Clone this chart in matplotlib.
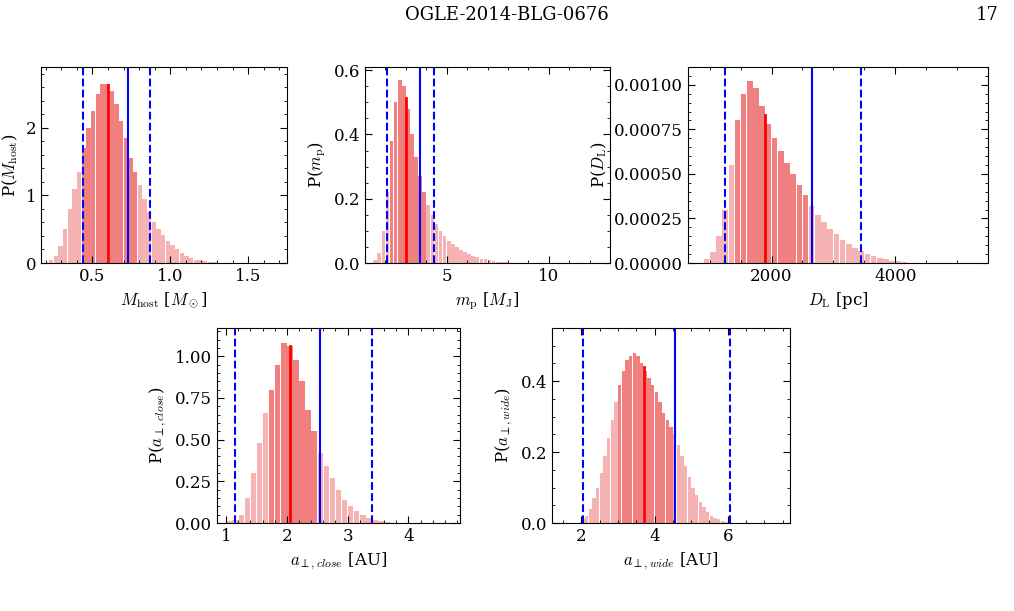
import numpy as np
import matplotlib
matplotlib.use("Agg")
from matplotlib import pyplot as plt

plt.rcParams["font.family"] = "DejaVu Serif"
plt.rcParams["mathtext.fontset"] = "cm"

# M_host
m_start, m_w = 0.22, 0.03
m_h = [0.05, 0.1, 0.25, 0.5, 0.8, 1.1, 1.35, 1.7, 2.0, 2.25, 2.5, 2.65, 2.65, 2.55,
       2.35, 2.1, 1.85, 1.55, 1.35, 1.15, 0.95, 0.75, 0.6, 0.5, 0.42, 0.33, 0.26,
       0.2, 0.15, 0.1, 0.07, 0.05, 0.04, 0.03, 0.02, 0.01]
# m_p
p_start, p_w = 1.4, 0.2
p_h = [0.01, 0.03, 0.1, 0.22, 0.38, 0.5, 0.57, 0.55, 0.48, 0.4, 0.33, 0.27, 0.22,
       0.18, 0.15, 0.12, 0.1, 0.085, 0.07, 0.06, 0.05, 0.04, 0.033, 0.027, 0.022,
       0.018, 0.014, 0.011, 0.008, 0.006, 0.004, 0.003, 0.002, 0.001]
# D_L
d_start, d_w = 900, 100
d_h = [v * 1e-4 for v in [0.2, 0.6, 1.5, 3, 5.5, 8, 9.5, 10.2, 9.8, 8.8, 7.8, 7, 6.3,
                          5.6, 5, 4.4, 3.8, 3.2, 2.7, 2.3, 1.9, 1.6, 1.3, 1.05, 0.85,
                          0.65, 0.5, 0.38, 0.28, 0.2, 0.14, 0.09, 0.05]]
# a_close
c_start, c_w = 1.0, 0.1
c_h = [0.01, 0.02, 0.05, 0.15, 0.3, 0.48, 0.66, 0.8, 0.95, 1.08, 1.06, 0.98, 0.85,
       0.68, 0.55, 0.42, 0.34, 0.27, 0.2, 0.14, 0.1, 0.07, 0.05, 0.03, 0.02, 0.01, 0.005]
# a_wide
w_start, w_w = 2.0, 0.1
w_h = [0.01, 0.02, 0.04, 0.07, 0.1, 0.14, 0.19, 0.24, 0.29, 0.34, 0.39, 0.43, 0.46,
       0.47, 0.48, 0.47, 0.45, 0.43, 0.41, 0.39, 0.37, 0.34, 0.31, 0.29, 0.27, 0.25,
       0.22, 0.19, 0.16, 0.13, 0.1, 0.08, 0.06, 0.045, 0.03, 0.02, 0.015, 0.01, 0.006,
       0.004, 0.002]

panels = [
    # start, width, heights, dark range, median, best, dashed, xlim, ylim, xticks, yticks, labels
    (m_start, m_w, m_h, (0.44, 0.79), 0.60, 0.73, (0.44, 0.87), (0.17, 1.75), (0, 2.9),
     [0.5, 1.0, 1.5], [0, 1, 2], r"$M_{\rm host}$ [$M_\odot$]", r"P($M_{\rm host}$)", "%.1f", "%d"),
    (p_start, p_w, p_h, (2.2, 3.9), 3.0, 3.7, (2.1, 4.4), (1.0, 13.0), (0, 0.61),
     [5, 10], [0, 0.2, 0.4, 0.6], r"$m_{\rm p}$ [$M_{\rm J}$]", r"P($m_{\rm p}$)", "%d", "%.1f"),
    (d_start, d_w, d_h, (1400, 2550), 1900, 2650, (1250, 3450), (650, 5500), (0, 0.0011),
     [2000, 4000], [0, 0.00025, 0.0005, 0.00075, 0.001], r"$D_{\rm L}$ [pc]", r"P($D_{\rm L}$)", "%d", "%.5f"),
    (c_start, c_w, c_h, (1.7, 2.5), 2.05, 2.55, (1.15, 3.4), (0.85, 4.85), (0, 1.17),
     [1, 2, 3, 4], [0, 0.25, 0.5, 0.75, 1.0], r"$a_{\perp,close}$ [AU]", r"P($a_{\perp,close}$)", "%d", "%.2f"),
    (w_start, w_w, w_h, (3.0, 4.5), 3.7, 4.55, (2.05, 6.05), (1.2, 7.7), (0, 0.55),
     [2, 4, 6], [0, 0.2, 0.4], r"$a_{\perp,wide}$ [AU]", r"P($a_{\perp,wide}$)", "%d", "%.1f"),
]

rects = [
    (41, 67, 287, 263), (365, 67, 610, 263), (688, 67, 988, 263),
    (217, 328, 460, 523), (552, 328, 790, 523),
]

fig = plt.figure(figsize=(10.14, 6.11), dpi=100)
fig.text(0.5, 1 - 15 / 611, "OGLE-2014-BLG-0676", ha="center", va="center", fontsize=13)
fig.text(0.985, 1 - 15 / 611, "17", ha="right", va="center", fontsize=13)

for (start, w, h, dark, med, best, dash, xl, yl, xt, yt, xlab, ylab, xf, yf), (x0, y0, x1, y1) in zip(panels, rects):
    ax = fig.add_axes([x0 / 1014, 1 - y1 / 611, (x1 - x0) / 1014, (y1 - y0) / 611])
    centers = start + w * (np.arange(len(h)) + 0.5)
    cols = ["#f08080" if dark[0] <= c <= dark[1] else "#f6b3b3" for c in centers]
    ax.bar(centers, h, width=w * 0.9, color=cols, linewidth=0)
    ax.axvline(med, color="red", lw=2, ymax=np.interp(med, centers, h) / yl[1])
    ax.axvline(best, color="blue", lw=1.5)
    for d in dash:
        ax.axvline(d, color="blue", lw=1.5, ls="--")
    ax.set_xlim(*xl)
    ax.set_ylim(*yl)
    ax.set_xticks(xt)
    ax.set_yticks(yt)
    ax.set_xticklabels([xf % v for v in xt])
    ax.set_yticklabels([yf % v for v in yt])
    ax.minorticks_on()
    ax.tick_params(which="both", direction="in", top=True, right=True, labelsize=12)
    ax.tick_params(which="major", length=5)
    ax.tick_params(which="minor", length=2.5)
    ax.set_xlabel(xlab, fontsize=12)
    ax.set_ylabel(ylab, fontsize=12)

fig.savefig("out.png", dpi=100)
